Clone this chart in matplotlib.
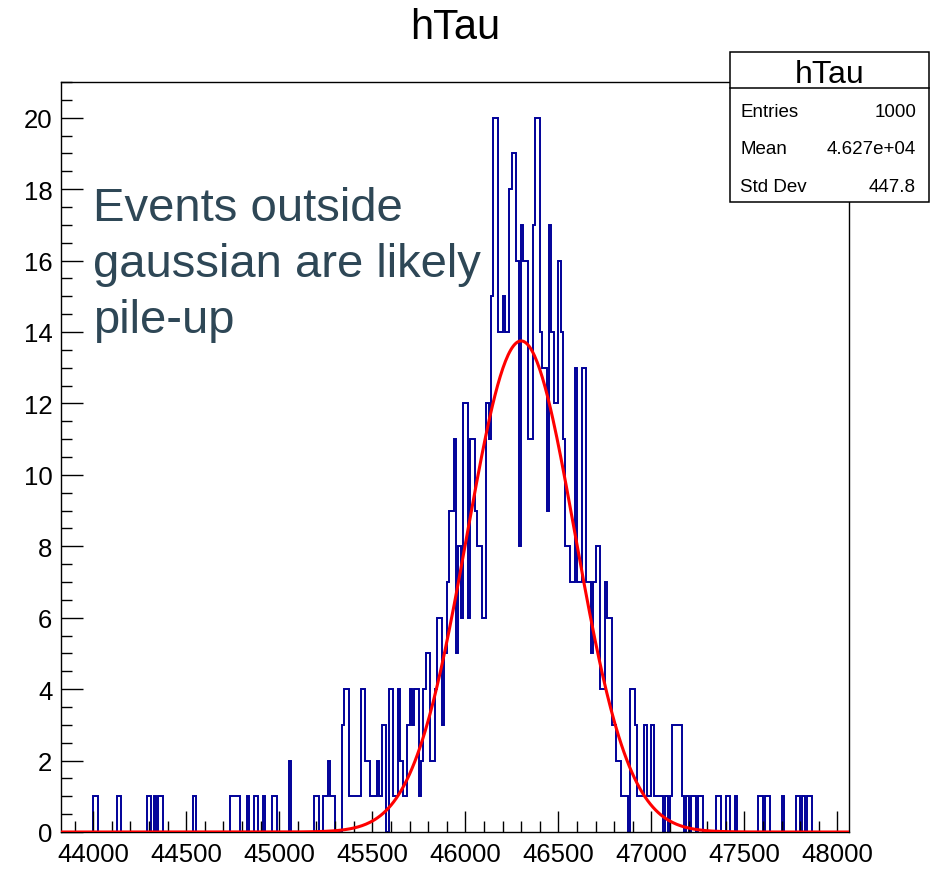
import numpy as np
import matplotlib
matplotlib.use("Agg")
import matplotlib.pyplot as plt
from matplotlib.patches import Rectangle
from matplotlib.ticker import MultipleLocator

plt.rcParams['font.family'] = ['Liberation Sans', 'DejaVu Sans']

## histogram hTau, bins of 12.5 starting at 43825
bin_start = 43825.0
bin_width = 12.5
counts = [
    0, 0, 0, 0, 0, 0, 0, 0, 0, 0, 0, 0, 0, 0, 1, 1, 0, 0, 0, 0,
    0, 0, 0, 0, 1, 1, 0, 0, 0, 0, 0, 0, 0, 0, 0, 0, 0, 1, 1, 0,
    1, 0, 1, 1, 0, 0, 0, 0, 0, 0, 0, 0, 0, 0, 0, 0, 0, 1, 0, 0,
    0, 0, 0, 0, 0, 0, 0, 0, 0, 0, 0, 0, 0, 1, 1, 1, 1, 0, 0, 0,
    1, 0, 0, 1, 1, 0, 0, 1, 0, 0, 0, 1, 1, 0, 0, 0, 0, 0, 2, 0,
    0, 0, 0, 0, 0, 0, 0, 0, 0, 1, 1, 0, 0, 1, 1, 2, 1, 1, 0, 0,
    0, 3, 4, 4, 1, 1, 1, 1, 1, 4, 4, 2, 2, 1, 1, 1, 2, 1, 3, 3,
    0, 4, 4, 1, 1, 4, 2, 1, 1, 3, 4, 3, 4, 4, 1, 2, 4, 5, 5, 2,
    2, 4, 6, 6, 3, 5, 7, 9, 9, 11, 5, 8, 6, 12, 12, 6, 11, 11, 9, 8,
    8, 6, 6, 12, 11, 15, 20, 20, 14, 14, 15, 14, 14, 18, 19, 19, 16, 8, 17, 16,
    16, 11, 11, 17, 20, 20, 14, 13, 13, 9, 17, 14, 12, 12, 16, 14, 11, 8, 8, 7,
    7, 13, 7, 7, 13, 13, 7, 7, 5, 7, 8, 8, 4, 4, 7, 6, 6, 3, 3, 2,
    2, 1, 1, 1, 0, 4, 4, 3, 1, 1, 1, 3, 1, 1, 3, 1, 1, 1, 1, 0,
    1, 0, 1, 3, 3, 3, 3, 1, 0, 1, 0, 1, 1, 0, 1, 1, 0, 0, 0, 0,
    0, 0, 1, 1, 0, 0, 1, 1, 0, 0, 1, 0, 0, 0, 0, 0, 0, 0, 0, 0,
    1, 1, 0, 1, 1, 0, 0, 0, 0, 0, 1, 0, 0, 0, 0, 0, 1, 1, 0, 1,
    0, 1, 1, 0, 0, 0, 0, 0, 0, 0, 0, 0, 0, 0, 0, 0, 0, 0, 0,
]

## gaussian fit parameters
fit_const = 13.75
fit_mean = 46300.0
fit_sigma = 290.0

stat_names = ["Entries", "Mean", "Std Dev"]
stat_values = ["1000", "4.627e+04", "447.8"]

note = "Events outside\ngaussian are likely\npile-up"

W, H = 936, 870
fig = plt.figure(figsize=(W / 100, H / 100), dpi=100)

# frame in pixels
fl, fr, ft, fb = 60.7, 849.0, 83.0, 833.0
ax = fig.add_axes([fl / W, 1 - fb / H, (fr - fl) / W, (fb - ft) / H])

edges = bin_start + bin_width * np.arange(len(counts) + 1)
ax.stairs(counts, edges, color="#000099", lw=1.4, baseline=0)

xf = np.linspace(edges[0], edges[-1], 600)
yf = fit_const * np.exp(-0.5 * ((xf - fit_mean) / fit_sigma) ** 2)
ax.plot(xf, yf, color="#ff0000", lw=2.2, zorder=3)

ax.set_xlim(edges[0], edges[-1])
ax.set_ylim(0, 21)

ax.xaxis.set_major_locator(MultipleLocator(500))
ax.xaxis.set_minor_locator(MultipleLocator(100))
ax.yaxis.set_major_locator(MultipleLocator(2))
ax.yaxis.set_minor_locator(MultipleLocator(0.5))
ax.tick_params(which="both", direction="in", top=False, right=False, width=1.0, colors="black")
ax.tick_params(axis="x", which="major", length=15, pad=7, labelsize=18.5)
ax.tick_params(axis="x", which="minor", length=8)
ax.tick_params(axis="y", which="major", length=16, pad=6, labelsize=18.5)
ax.tick_params(axis="y", which="minor", length=8)
for s in ax.spines.values():
    s.set_linewidth(1.0)

# title
fig.text(455 / W, 1 - 39 / H, "hTau", ha="center", va="baseline", fontsize=30)

# stats box
bx0, bx1, by0, by1, bdiv = 730, 929, 52.7, 202.7, 89.3
fig.add_artist(Rectangle((bx0 / W, 1 - by1 / H), (bx1 - bx0) / W, (by1 - by0) / H,
                         transform=fig.transFigure, facecolor="white",
                         edgecolor="black", lw=1.1, zorder=5))
fig.add_artist(plt.Line2D([bx0 / W, bx1 / W], [1 - bdiv / H, 1 - bdiv / H],
                          transform=fig.transFigure, color="black", lw=1.1, zorder=6))
fig.text((bx0 + bx1) / 2 / W, 1 - 83 / H, "hTau", ha="center", va="baseline", fontsize=23, zorder=7)
for i in range(len(stat_names)):
    yb = 1 - (116.7 + 37.5 * i) / H
    fig.text(740.5 / W, yb, stat_names[i], ha="left", va="baseline", fontsize=13.5, zorder=7)
    fig.text(916 / W, yb, stat_values[i], ha="right", va="baseline", fontsize=13.5, zorder=7)

# annotation
fig.text(93 / W, 1 - 187 / H, note, ha="left", va="top", fontsize=34,
         color="#2e4756", linespacing=1.35)

fig.savefig("out.png", dpi=100)
